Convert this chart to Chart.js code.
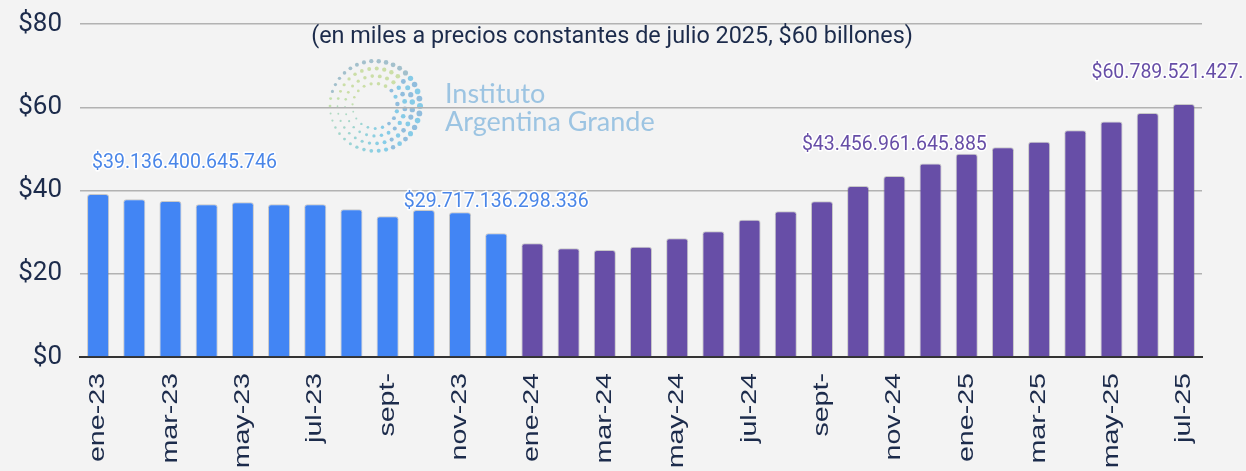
<!DOCTYPE html>
<html>
<head>
<meta charset="utf-8">
<script src="https://cdn.jsdelivr.net/npm/chart.js@4"></script>
<style>
  body { margin: 0; background: #f3f3f3; overflow: hidden; }
  canvas { display: block; }
</style>
</head>
<body>
<canvas id="chart" width="1246" height="471"></canvas>
<script>
// meses de ene-23 a jul-25
const meses = [
  "ene-23", "feb-23", "mar-23", "abr-23", "may-23", "jun-23", "jul-23", "ago-23", "sept-23", "oct-23", "nov-23", "dic-23",
  "ene-24", "feb-24", "mar-24", "abr-24", "may-24", "jun-24", "jul-24", "ago-24", "sept-24", "oct-24", "nov-24", "dic-24",
  "ene-25", "feb-25", "mar-25", "abr-25", "may-25", "jun-25", "jul-25"
];
// etiquetas visibles del eje (una cada dos meses)
const etiquetasEje = [
  "ene-23", "mar-23", "may-23", "jul-23", "sept-", "nov-23",
  "ene-24", "mar-24", "may-24", "jul-24", "sept-", "nov-24",
  "ene-25", "mar-25", "may-25", "jul-25"
];
// valores en billones de pesos
const serie2023 = [39.14, 37.9, 37.5, 36.7, 37.2, 36.7, 36.7, 35.5, 33.8, 35.3, 34.8, 29.72];
const serie2024_25 = [27.3, 26.1, 25.7, 26.5, 28.5, 30.2, 33.0, 35.0, 37.4, 41.1, 43.46, 46.5,
  48.8, 50.4, 51.7, 54.5, 56.6, 58.6, 60.79];
const ticksY = [0, 20, 40, 60, 80];
// rótulos de datos
const rotuloIndice = [0, 11, 22, 30];
const rotuloTexto = ["$39.136.400.645.746", "$29.717.136.298.336", "$43.456.961.645.885", "$60.789.521.427."];

const titulo = "(en miles a precios constantes de julio 2025, $60 billones)";

const AZUL = "#4285f4";
const VIOLETA = "#674ea7";
const TEXTO = "#1c2b4b";

const valores = serie2023.concat(serie2024_25);
const colores = valores.map((v, i) => i < serie2023.length ? AZUL : VIOLETA);

function mezcla(a, b, t) {
  return "rgb(" + a.map((v, i) => Math.round(v + (b[i] - v) * t)).join(",") + ")";
}

const fondoYLogo = {
  id: "fondoYLogo",
  beforeDraw(chart) {
    const c = chart.ctx;
    c.save();
    c.fillStyle = "#f3f3f3";
    c.fillRect(0, 0, chart.width, chart.height);

    // logo de puntos
    const cx = 375, cy = 106;
    const azul = [120, 200, 232], grisAzul = [140, 176, 212], verde = [208, 228, 150];
    for (let k = 0; k < 4; k++) {
      const r = 45 - k * 7.5;
      const n = Math.round((2 * Math.PI * r) / 7.5);
      for (let j = 0; j < n; j++) {
        const a = (j / n) * Math.PI * 2 + k * 0.3;
        const ang = ((a % (Math.PI * 2)) + Math.PI * 2) % (Math.PI * 2);
        // ang 0 = derecha, PI/2 = abajo, PI = izquierda
        let s;
        if (ang < Math.PI) s = 1 - ang / Math.PI * 0.85;
        else s = 0.35 + 0.65 * (ang - Math.PI) / Math.PI;
        const size = 0.5 + 2.5 * s * (1 - k * 0.1);
        let col;
        if (ang > Math.PI * 1.1 && ang < Math.PI * 1.75) col = mezcla(verde, grisAzul, k === 0 ? 0.8 : 0.15);
        else if (ang >= Math.PI * 1.75 || ang < Math.PI * 0.4) col = mezcla(azul, grisAzul, (j + k) % 2 ? 0.7 : 0.1);
        else if (ang < Math.PI) col = mezcla(azul, verde, (ang - Math.PI * 0.4) / (Math.PI * 0.6) * 0.6);
        else col = mezcla(verde, azul, 0.2);
        c.globalAlpha = 0.9;
        c.fillStyle = col;
        c.beginPath();
        c.arc(cx + r * Math.cos(a), cy + r * Math.sin(a), size, 0, Math.PI * 2);
        c.fill();
      }
    }
    c.globalAlpha = 1;
    c.fillStyle = "#9cc4e2";
    c.font = "27px Lato";
    c.textAlign = "left";
    c.textBaseline = "alphabetic";
    c.fillText("Instituto", 445, 103);
    c.fillText("Argentina Grande", 445, 131);
    c.restore();
  },
  afterDraw(chart) {
    const c = chart.ctx;
    const x = chart.scales.x;
    const area = chart.chartArea;
    c.save();
    // título
    c.fillStyle = TEXTO;
    c.font = "23.4px Roboto";
    c.textAlign = "center";
    c.textBaseline = "alphabetic";
    c.fillText(titulo, 612, 43);

    // etiquetas del eje x, giradas
    c.font = "22px 'Liberation Sans'";
    c.textAlign = "right";
    c.textBaseline = "middle";
    etiquetasEje.forEach((txt, k) => {
      const px = x.getPixelForValue(k * 2);
      c.save();
      c.translate(px, area.bottom + 16);
      c.rotate(-Math.PI / 2);
      c.scale(1.3, 1);
      c.fillText(txt, 0, 0);
      c.restore();
    });
    c.restore();
  },
  afterDatasetsDraw(chart) {
    const c = chart.ctx;
    const meta = chart.getDatasetMeta(0);
    const area = chart.chartArea;
    c.save();
    c.font = "19.5px Roboto";
    c.textAlign = "left";
    c.textBaseline = "middle";
    c.lineJoin = "round";
    rotuloIndice.forEach((idx, k) => {
      const bar = meta.data[idx];
      const txt = rotuloTexto[k];
      const w = c.measureText(txt.padEnd(19, "0")).width;
      const left = Math.max(area.left + 12, bar.x - w / 2);
      const y = bar.y - 31;
      c.strokeStyle = "#ffffff";
      c.lineWidth = 3;
      c.strokeText(txt, left, y);
      c.fillStyle = idx < serie2023.length ? "#4a86e8" : VIOLETA;
      c.fillText(txt, left, y);
    });
    c.restore();
  }
};

new Chart(document.getElementById("chart"), {
  type: "bar",
  data: {
    labels: meses,
    datasets: [{
      data: valores,
      backgroundColor: colores,
      borderColor: "rgba(120,120,120,0.35)",
      borderWidth: 1,
      borderSkipped: "start",
      borderRadius: { topLeft: 3, topRight: 3 },
      barPercentage: 0.61,
      categoryPercentage: 1
    }]
  },
  options: {
    responsive: false,
    animation: false,
    layout: { padding: { top: 24, right: 44, bottom: 114, left: 0 } },
    plugins: { legend: { display: false }, tooltip: { enabled: false } },
    scales: {
      x: {
        grid: { display: false },
        ticks: { display: false },
        border: { display: true, color: "#333333", width: 2 },
        afterFit(scale) { scale.height = 0; }
      },
      y: {
        min: 0,
        max: 80,
        afterBuildTicks(scale) { scale.ticks = ticksY.map(v => ({ value: v })); },
        afterFit(scale) {
          scale.width = 80;
          scale.paddingTop = 0;
          scale.paddingBottom = 0;
        },
        border: { display: false },
        grid: {
          color: ctx => ctx.tick && ctx.tick.value === 0 ? "rgba(0,0,0,0)" : "#b2b2b2",
          lineWidth: 1.5,
          drawTicks: false
        },
        ticks: {
          padding: 18,
          color: TEXTO,
          font: { family: "Roboto", size: 26 },
          callback: v => "$" + v
        }
      }
    }
  },
  plugins: [fondoYLogo]
});
</script>
</body>
</html>
